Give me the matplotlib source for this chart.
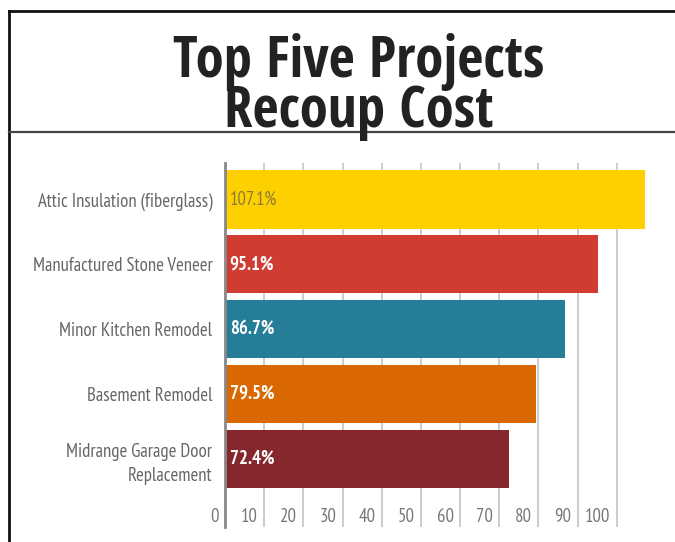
"""Top five remodeling projects by cost recouped."""

import matplotlib
matplotlib.use("Agg")
import matplotlib.pyplot as plt
import matplotlib.transforms as mtransforms
from matplotlib import font_manager as fm
from matplotlib.lines import Line2D

projects = [
    "Attic Insulation (fiberglass)",
    "Manufactured Stone Veneer",
    "Minor Kitchen Remodel",
    "Basement Remodel",
    "Midrange Garage Door\nReplacement",
]
recoup_pct = [107.1, 95.1, 86.7, 79.5, 72.4]
bar_colors = ["#FFD000", "#D03B32", "#267D98", "#D96800", "#86262D"]
value_colors = ["#8a7a3a", "white", "white", "white", "white"]
x_ticks = [0, 10, 20, 30, 40, 50, 60, 70, 80, 90, 100]


def pick_font(candidates):
    names = {f.name for f in fm.fontManager.ttflist}
    for c in candidates:
        if c in names:
            return c
    return "DejaVu Sans"


body_font = pick_font(["PT Sans Narrow", "Archivo Narrow", "Liberation Sans Narrow"])
title_font = pick_font(["Open Sans Condensed", "PT Sans Narrow", "Archivo Narrow"])
plt.rcParams["font.family"] = [body_font, "DejaVu Sans"]

W, H = 675, 542
fig = plt.figure(figsize=(W / 100, H / 100), dpi=100)


# frame and title rule, in pixel coordinates
def px_line(x0, y0, x1, y1, **kw):
    fig.add_artist(Line2D([x0 / W, x1 / W], [1 - y0 / H, 1 - y1 / H],
                          transform=fig.transFigure, **kw))


px_line(9, 11, W, 11, color="#111111", lw=2.0)
px_line(9, 11, 9, H, color="#111111", lw=2.0)
px_line(9, 132, W, 132, color="#444444", lw=1.6)

fig.text(359 / W, 1 - 87 / H, "Top Five Projects\nRecoup Cost", ha="center", va="center",
         fontsize=41, fontweight="bold", color="#222222", linespacing=0.82,
         family=[title_font, "DejaVu Sans"])

ax = fig.add_axes([225 / W, 1 - 527 / H, 431 / W, 364 / H])
y_pos = list(range(len(projects)))
ax.barh(y_pos, recoup_pct, height=0.9, color=bar_colors, zorder=3)
ax.set_xlim(0, 110)
ax.set_ylim(5.05, -0.56)

for x in x_ticks[1:]:
    ax.axvline(x, color="#cccccc", lw=1.4, zorder=1)

for s in ["top", "right", "bottom"]:
    ax.spines[s].set_visible(False)
ax.spines["left"].set_color("#888888")
ax.spines["left"].set_linewidth(2.0)
ax.spines["left"].set_zorder(4)

ax.set_xticks([])
ax.set_yticks(y_pos)
ax.set_yticklabels(projects, fontsize=13.5, color="#666666", linespacing=1.45)
ax.tick_params(axis="y", length=0, pad=9)

label_tr = mtransforms.offset_copy(
    mtransforms.blended_transform_factory(ax.transData, ax.transAxes),
    fig=fig, x=-4.5, y=0, units="points")
for x in x_ticks:
    ax.text(x, 0.028, str(x), transform=label_tr, ha="right", va="center",
            fontsize=13.5, color="#777777")

for y, v, c in zip(y_pos, recoup_pct, value_colors):
    ax.text(1.2, y, f"{v}%", ha="left", va="center", fontsize=13.5,
            fontweight="bold" if c == "white" else "normal", color=c, zorder=5)

fig.savefig("out.png", dpi=100)
